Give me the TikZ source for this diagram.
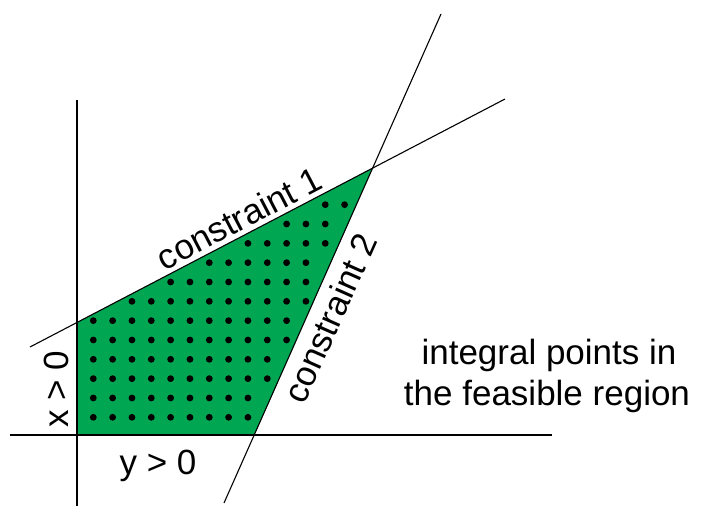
\documentclass[tikz,border=0pt]{standalone}
\usepackage{fontspec}
\setmainfont{Liberation Sans}
\definecolor{feasgreen}{RGB}{0,166,81}
\tikzset{
  axisline/.style={draw=black, line width=1.2pt},
  cline/.style={draw=black, line width=1.1pt},
  lbl/.style={font=\fontsize{35}{42}\selectfont, inner sep=0pt, text=black},
  dotmark/.style={fill=black}
}
\begin{document}
\begin{tikzpicture}[x=1pt,y=-1pt]
\useasboundingbox (0,0) rectangle (703,506);
% end points of lines
\coordinate (ya) at (77,100);
\coordinate (yb) at (77,506);
\coordinate (xa) at (10,435);
\coordinate (xb) at (552,435);
\coordinate (p1) at (30,347);
\coordinate (p2) at (505,99);
\coordinate (q1) at (441,14);
\coordinate (q2) at (224,503);
% vertices of feasible region
\coordinate (A) at (77,435);
\coordinate (D) at (intersection of ya--yb and p1--p2);
\coordinate (V) at (intersection of p1--p2 and q1--q2);
\coordinate (B) at (intersection of xa--xb and q1--q2);
\fill[feasgreen] (A) -- (D) -- (V) -- (B) -- cycle;
% integral points
\foreach \j/\ia/\ib in {0/0/8,1/0/8,2/0/9,3/0/9,4/0/10,5/0/10,6/2/11,7/4/11,8/6/11,9/8/12,10/10/12,11/12/13}{
  \foreach \i in {\ia,...,\ib}{
    \fill[dotmark] ({93.3+19.33*\i},{417.3-19.33*\j}) circle (3.4);
  }
}
% lines
\draw[axisline] (ya) -- (yb);
\draw[axisline] (xa) -- (xb);
\draw[cline] (p1) -- (p2);
\draw[cline] (q1) -- (q2);
% labels
\node[lbl, rotate=27.6] (c1) at (239,218) {constraint 1};
\node[lbl, rotate=66] (c2) at (330,318) {constraint 2};
\node[lbl, rotate=90] (xl) at (56,389) {x > 0};
\node[lbl] (yl) at (158,466) {y > 0};
\node[lbl, anchor=base] (t1) at (549,364) {integral points in};
\node[lbl, anchor=base] (t2) at (547,405) {the feasible region};
\end{tikzpicture}
\end{document}
